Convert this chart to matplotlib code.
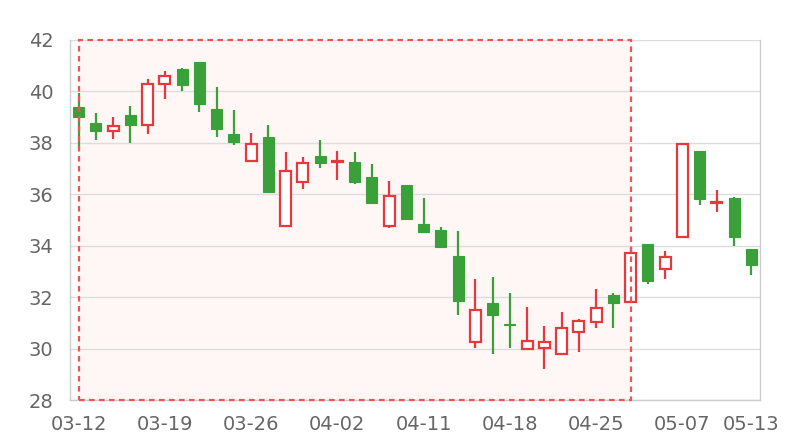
import matplotlib
matplotlib.use("Agg")
import matplotlib.pyplot as plt
from matplotlib.patches import Rectangle
import numpy as np

dates = ["03-12", "03-13", "03-14", "03-15", "03-16", "03-19", "03-20", "03-21", "03-22", "03-23",
         "03-26", "03-27", "03-28", "03-29", "03-30", "04-02", "04-03", "04-04", "04-09", "04-10",
         "04-11", "04-12", "04-13", "04-16", "04-17", "04-18", "04-19", "04-20", "04-23", "04-24",
         "04-25", "04-26", "04-27", "05-03", "05-04", "05-07", "05-08", "05-09", "05-10", "05-13"]
opens = [39.38, 38.76, 38.46, 39.08, 38.68, 40.28, 40.86, 41.14, 39.32, 38.34,
         37.28, 38.22, 34.78, 36.48, 37.48, 37.24, 37.24, 36.66, 34.77, 36.36,
         34.83, 34.60, 33.60, 30.27, 31.77, 30.96, 29.98, 30.03, 29.78, 30.66,
         31.04, 32.08, 31.82, 34.08, 33.08, 34.35, 37.67, 35.65, 35.86, 33.87]
closes = [39.02, 38.45, 38.66, 38.69, 40.30, 40.59, 40.24, 39.52, 38.52, 38.03,
          37.96, 36.08, 36.92, 37.23, 37.20, 37.30, 36.47, 35.66, 35.95, 35.03,
          34.52, 33.96, 31.85, 31.50, 31.31, 30.90, 30.31, 30.27, 30.81, 31.08,
          31.59, 31.79, 33.73, 32.63, 33.56, 37.94, 35.80, 35.70, 34.35, 33.26]
highs = [39.95, 39.16, 39.00, 39.42, 40.47, 40.78, 40.91, 41.16, 40.18, 39.27,
         38.40, 38.68, 37.63, 37.45, 38.12, 37.68, 37.64, 37.18, 36.52, 36.36,
         35.86, 34.72, 34.58, 32.72, 32.78, 32.17, 31.62, 30.86, 31.43, 31.14,
         32.33, 32.15, 33.96, 34.08, 33.81, 37.94, 37.67, 36.15, 35.89, 33.87]
lows = [37.76, 38.10, 38.16, 37.99, 38.34, 39.72, 40.00, 39.20, 38.21, 37.91,
        37.28, 36.08, 34.78, 36.20, 37.03, 36.57, 36.40, 35.66, 34.70, 34.99,
        34.50, 33.96, 31.29, 30.01, 29.80, 30.03, 29.98, 29.22, 29.78, 29.88,
        30.81, 30.79, 31.82, 32.50, 32.69, 34.35, 35.60, 35.32, 34.00, 32.87]

area_start, area_end = 0, 32
y_ticks = [28, 30, 32, 34, 36, 38, 40, 42]
label_idx = [0, 5, 10, 15, 20, 25, 30, 35, 39]

RED = "#e8383d"
GREEN = "#3aa13a"

fig = plt.figure(figsize=(8, 4.4), dpi=100)
ax = fig.add_axes([70 / 800, 1 - 400 / 440, 690 / 800, 360 / 440])

x = np.arange(len(dates))
o = np.array(opens); c = np.array(closes); h = np.array(highs); l = np.array(lows)
up = c >= o

ax.set_xlim(-0.5, len(dates) - 0.5)
ax.set_ylim(28, 42)

# mark area
ax.add_patch(Rectangle((area_start, 28), area_end - area_start, 14,
                       facecolor="#fff6f6", edgecolor="none", zorder=0))
ax.add_patch(Rectangle((area_start, 28), area_end - area_start, 14,
                       facecolor="none", edgecolor="#ee5555", linewidth=1.6,
                       linestyle=(0, (2.5, 2)), zorder=5, clip_on=False))

for yv in y_ticks:
    ax.axhline(yv, color="#dddddd", linewidth=1, zorder=1)

width = 0.64
for i in range(len(dates)):
    col = RED if up[i] else GREEN
    top = max(o[i], c[i]); bot = min(o[i], c[i])
    hgt = max(top - bot, 0.06)
    if abs(top - bot) < 0.06:
        mid = (top + bot) / 2
        top, bot = mid + 0.03, mid - 0.03
    ax.vlines(x[i], bot, l[i] if False else h[i], color=col, linewidth=1.6, zorder=2)
    ax.vlines(x[i], l[i], top, color=col, linewidth=1.6, zorder=2)
    if up[i]:
        ax.bar(x[i], hgt, bottom=bot, width=width, facecolor="white",
               edgecolor=col, linewidth=1.6, zorder=3)
    else:
        ax.bar(x[i], hgt, bottom=bot, width=width, facecolor=col,
               edgecolor=col, linewidth=0.8, zorder=3)

ax.set_yticks(y_ticks)
ax.set_yticklabels([str(v) for v in y_ticks])
ax.set_xticks(label_idx)
ax.set_xticklabels([dates[i] for i in label_idx])
ax.tick_params(axis="both", length=0, labelsize=14, colors="#666666")
ax.tick_params(axis="y", pad=12)
ax.tick_params(axis="x", pad=11)
for s in ["left", "right", "bottom", "top"]:
    ax.spines[s].set_color("#cccccc")
    ax.spines[s].set_linewidth(1)
ax.spines["top"].set_visible(False)
ax.set_facecolor("white")

fig.savefig("out.png", dpi=100)
